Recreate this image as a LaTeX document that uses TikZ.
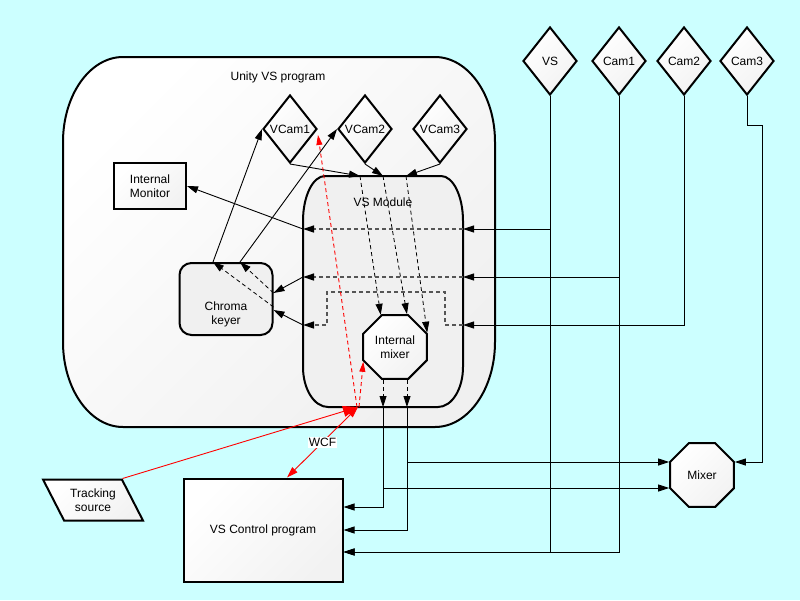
\documentclass[tikz,border=0pt]{standalone}
\usepackage{fontspec}
\setmainfont{Liberation Sans}
\usetikzlibrary{arrows.meta,positioning,calc,shapes.geometric}
\definecolor{bgcyan}{HTML}{CCFFFF}
\definecolor{panel}{HTML}{F0F0F0}
\definecolor{routegray}{HTML}{555555}

\begin{document}
\begin{tikzpicture}[x=1pt, y=-1pt, font=\fontsize{12}{14}\selectfont, line width=0.9pt,
  shadebox/.style={draw, line width=2pt, top color=white, bottom color=gray!10, shading angle=45, align=center, inner sep=0pt},
  dia/.style={shadebox, diamond, minimum width=54pt, minimum height=68pt},
  octa/.style={shadebox, regular polygon, regular polygon sides=8, minimum size=69pt},
  wire/.style={-{Triangle[length=11pt,width=7pt]}},
  route/.style={-{Triangle[length=11pt,width=7pt,color=black]}, routegray, line width=1.3pt, dash pattern=on 4pt off 3pt},
  thinroute/.style={wire, line width=0.8pt, dash pattern=on 4pt off 3pt},
  redwire/.style={red, line width=0.9pt}]
  \useasboundingbox (0,0) rectangle (800,600);
  \fill[bgcyan] (0,0) rectangle (800,600);

  % Unity program outline
  \path[draw, line width=2pt, top color=white, middle color=panel, bottom color=panel, shading angle=45]
    (123,57) -- (435,57) arc[start angle=270, end angle=360, x radius=60, y radius=85]
    -- (495,342) arc[start angle=0, end angle=90, x radius=60, y radius=85]
    -- (123,427) arc[start angle=90, end angle=180, x radius=60, y radius=85]
    -- (63,142) arc[start angle=180, end angle=270, x radius=60, y radius=85] -- cycle;
  \node (unity) at (278,77) {Unity VS program};

  % VS module outline
  \path[draw, line width=2pt, fill=panel]
    (325,176) -- (441,176) arc[start angle=270, end angle=360, x radius=22, y radius=45]
    -- (463,367) arc[start angle=0, end angle=90, x radius=25, y radius=40]
    -- (328,407) arc[start angle=90, end angle=180, x radius=25, y radius=40]
    -- (303,221) arc[start angle=180, end angle=270, x radius=22, y radius=45] -- cycle;
  \node (vsmod) at (383,202) {VS Module};

  \node[dia] (vcam1) at (290,129) {VCam1};
  \node[dia, right=19pt of vcam1] (vcam2) {VCam2};
  \node[dia, right=19pt of vcam2] (vcam3) {VCam3};

  \node[dia] (vs) at (550,61) {VS};
  \node[dia, right=13pt of vs] (cam1) {Cam1};
  \node[dia, right=9pt of cam1] (cam2) {Cam2};
  \node[dia, right=7pt of cam2] (cam3) {Cam3};

  \node[shadebox, minimum width=72pt, minimum height=46pt] (monitor) at (150,186) {Internal\\Monitor};
  \node[draw, line width=2pt, rounded corners=12pt, fill=panel, minimum width=93pt, minimum height=72pt] (chroma) at (226,299) {};
  \node[align=center] (chromatxt) at (226,314) {Chroma\\keyer};
  \node[octa] (imix) at (395,347) {Internal\\mixer};
  \node[octa] (mixer) at (702,475) {Mixer};
  \node[shadebox, minimum width=159pt, minimum height=103pt] (vsctrl) at (263,530) {VS Control program};
  \node[shadebox, trapezium, trapezium left angle=126, trapezium right angle=54, trapezium stretches=true,
        minimum width=100pt, minimum height=41pt] (track) at (93,500) {Tracking\\source};

  % ports on the module border
  \coordinate (ptop1) at (360,176);
  \coordinate (ptop2) at (383,176);
  \coordinate (ptop3) at (406,176);
  \coordinate (pin1) at (463,229);
  \coordinate (pin2) at (463,277);
  \coordinate (pin3) at (463,325);
  \coordinate (pout1) at (303,229);
  \coordinate (pout2) at (303,277);
  \coordinate (pout3) at (303,325);
  \coordinate (pbot1) at (imix.250 |- 0,407);
  \coordinate (pbot2) at (imix.290 |- 0,407);
  \coordinate (pred) at (358,407);
  \coordinate (ckin1) at ([yshift=6pt]chroma.east);
  \coordinate (ckin2) at ([yshift=-11pt]chroma.east);
  \coordinate (ckout1) at ([xshift=-13pt]chroma.north);
  \coordinate (ckout2) at ([xshift=14pt]chroma.north);

  % virtual cameras into the module
  \draw[wire] (vcam1.south) -- (ptop1);
  \draw[wire] (vcam2.south) -- (ptop2);
  \draw[wire] (vcam3.south) -- (ptop3);
  \draw[thinroute] (ptop1) -- (imix.114);
  \draw[thinroute] (ptop2) -- (imix.70);
  \draw[thinroute] (ptop3) -- (imix.24);

  % camera feeds
  \draw[wire] (vs.south) |- (pin1);
  \draw[wire] (cam1.south) |- (pin2);
  \draw[wire] (cam2.south) |- (pin3);
  \draw[wire] (vs.south) |- ([yshift=-22pt]vsctrl.east);
  \draw[wire] (cam1.south) |- ([yshift=-22pt]vsctrl.east);
  \draw[wire] (cam3.south) -- ++(0,29) -- ++(15,0) |- ([yshift=13pt]mixer.east);

  % routing inside the module
  \draw[route] (pin1) -- (pout1);
  \draw[route] (pin2) -- (pout2);
  \draw[route] (pin3) -- ++(-18,0) -- ++(0,-33) -- ++(-118,0) -- ++(0,33) -- (pout3);
  \draw[wire] (pout1) -- (monitor.east);
  \draw[wire] (pout2) -- (ckin1);
  \draw[wire] (pout3) -- (ckin2);

  % chroma keyer
  \draw[thinroute] (ckin1) -- (ckout2);
  \draw[thinroute] ([yshift=3pt]ckin2) -- (ckout1);
  \draw[wire] (ckout1) -- (vcam1.west);
  \draw[wire] (ckout2) -- (vcam2.west);

  % internal mixer outputs
  \draw[thinroute] (imix.250) -- (pbot1);
  \draw[thinroute] (imix.290) -- (pbot2);
  \draw[wire] (pbot1) |- ([yshift=23pt]vsctrl.east);
  \draw[wire] (pbot2) |- (vsctrl.east);
  \draw[wire] (pbot1) |- ([yshift=-13pt]mixer.west);
  \draw[wire] (pbot2) |- ([yshift=13pt]mixer.west);

  % tracking and WCF
  \draw[redwire, dash pattern=on 4pt off 3pt, -{Triangle[length=10pt,width=6pt]}] ([xshift=-1pt]pred) -- ([yshift=-6pt]vcam1.east);
  \draw[redwire, dash pattern=on 4pt off 3pt, -{Triangle[length=10pt,width=6pt]}] ([xshift=1pt]pred) -- (imix.205);
  \draw[redwire, -{Triangle[length=15pt,width=11pt]}] (track.top right corner) -- (pred);
  \draw[redwire, {Triangle[length=11pt,width=7pt]}-{Triangle[length=11pt,width=7pt]}] ([xshift=24pt]vsctrl.north) -- node[fill=white, inner sep=1pt, text=black] (wcf) {WCF} (pred);
\end{tikzpicture}
\end{document}
